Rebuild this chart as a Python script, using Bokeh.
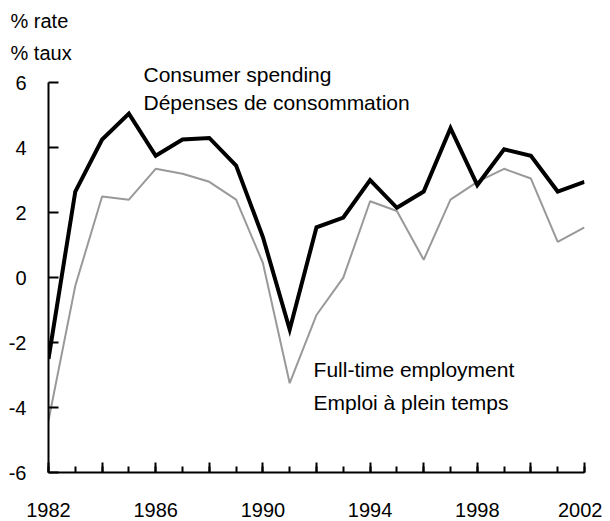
from bokeh.plotting import figure
from bokeh.models import FixedTicker, Range1d, Label, Title
from bokeh.embed import file_html
from bokeh.resources import INLINE

years = list(range(1982, 2003))
consumer_spending = [-2.5, 2.65, 4.25, 5.05, 3.75, 4.25, 4.3, 3.45, 1.25, -1.6, 1.55,
                     1.85, 3.0, 2.15, 2.65, 4.6, 2.85, 3.95, 3.75, 2.65, 2.95]
fulltime_employment = [-4.4, -0.25, 2.5, 2.4, 3.35, 3.2, 2.95, 2.4, 0.45, -3.25, -1.15,
                       0.0, 2.35, 2.05, 0.55, 2.4, 2.95, 3.35, 3.05, 1.1, 1.55]
y_ticks = [-6, -4, -2, 0, 2, 4, 6]
y_labels = {t: str(t) for t in y_ticks}
x_major = list(range(1982, 2003, 2))
x_labels = {y: str(y) for y in range(1982, 2003, 4)}

FONT = "Liberation Sans"
FS = "20px"
FS_ANN = "21px"

p = figure(width=602, height=520, output_backend="svg", toolbar_location=None,
           x_range=Range1d(1982, 2002), y_range=Range1d(-6, 6.5),
           min_border_left=48, min_border_right=18, min_border_top=66, min_border_bottom=48)
p.outline_line_color = None
p.xgrid.visible = False
p.ygrid.visible = False
p.background_fill_color = "white"
p.border_fill_color = "white"

p.title.text = "% rate"
p.title.align = "left"
p.title.offset = -38
p.title.text_font = FONT
p.title.text_font_size = FS
p.title.text_font_style = "normal"
p.title.text_color = "black"
p.title.standoff = 10
p.add_layout(Title(text="% taux", align="left", offset=-38, text_font=FONT,
                   text_font_size=FS, text_font_style="normal", text_color="black",
                   standoff=6), "above")

p.line(years, fulltime_employment, line_color="#999999", line_width=2)
p.line(years, consumer_spending, line_color="black", line_width=4, line_join="miter")

# y axis
ya = p.yaxis[0]
ya.ticker = FixedTicker(ticks=y_ticks)
ya.bounds = (-6, 6)
ya.major_label_overrides = y_labels
ya.major_tick_in = 10
ya.major_tick_out = 0
ya.minor_tick_in = 0
ya.minor_tick_out = 0
ya.axis_line_width = 2
ya.major_tick_line_width = 2
ya.major_label_standoff = 22
ya.major_label_text_font = FONT
ya.major_label_text_font_size = FS
ya.major_label_text_color = "black"

# x axis
xa = p.xaxis[0]
xa.ticker = FixedTicker(ticks=x_major, minor_ticks=years)
xa.major_label_overrides = {t: x_labels.get(t, "") for t in x_major}
xa.major_tick_in = 10
xa.major_tick_out = 0
xa.minor_tick_in = 6
xa.minor_tick_out = 0
xa.axis_line_width = 2
xa.major_tick_line_width = 2
xa.minor_tick_line_width = 2
xa.major_label_standoff = 30
xa.major_label_text_font = FONT
xa.major_label_text_font_size = FS
xa.major_label_text_color = "black"

labels = [
    ("Consumer spending", 1985.545, 6.25),
    ("Dépenses de consommation", 1985.545, 5.4),
    ("Full-time employment", 1991.89, -2.82),
    ("Emploi à plein temps", 1991.89, -3.84),
]
for txt, x, y in labels:
    p.add_layout(Label(x=x, y=y, text=txt, text_font=FONT, text_font_size=FS_ANN,
                       text_baseline="middle", text_align="left", text_color="black"))

open("out.html", "w").write(file_html(p, INLINE))
